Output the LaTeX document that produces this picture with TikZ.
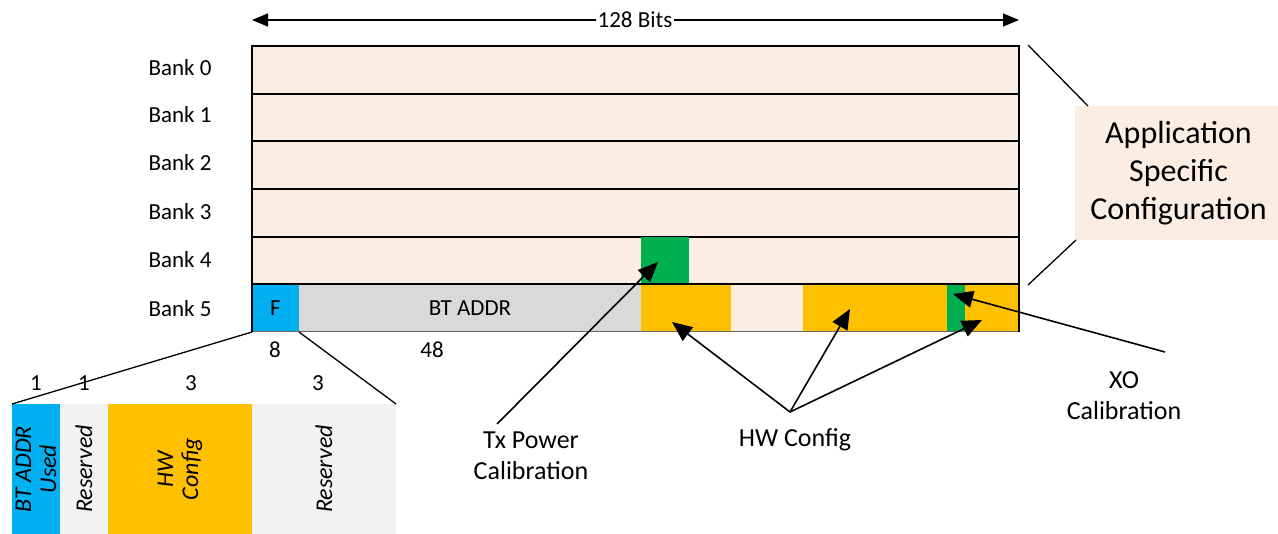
\documentclass[tikz,border=0pt]{standalone}
\usepackage{fontspec}
\setmainfont{Carlito}
\usetikzlibrary{arrows.meta}
\definecolor{peach}{RGB}{252,237,227}
\definecolor{cblue}{RGB}{0,176,240}
\definecolor{cyellow}{RGB}{255,192,0}
\definecolor{cgreen}{RGB}{0,176,80}
\definecolor{cgray}{RGB}{217,217,217}
\definecolor{clight}{RGB}{242,242,242}
\begin{document}
\begin{tikzpicture}[x=1pt,y=-1pt,
  cell/.style={inner sep=0pt,outer sep=0pt,anchor=north west},
  row/.style={cell,draw=black,line width=1.8pt,fill=peach,minimum width=767pt,minimum height=47.67pt},
  lbl/.style={font=\fontsize{23}{26}\selectfont},
  cal/.style={align=center,font=\fontsize{26}{31}\selectfont},
  rot/.style={font=\fontsize{24}{25}\selectfont\itshape,rotate=90,align=center},
  bigarrow/.style={line width=1.6pt,-{Triangle[length=20pt,width=17pt]}},
  plain/.style={line width=1.3pt}]
\useasboundingbox (0,0) rectangle (1278,534);
% rows
\node[row] (r0) at (252,46) {};
\node[row] (r1) at (252,93.67) {};
\node[row] (r2) at (252,141.33) {};
\node[row] (r3) at (252,189) {};
\node[row] (r4) at (252,236.67) {};
\node[cell,fill=cgreen,minimum width=48pt,minimum height=47.67pt] (g4) at (641,236.67) {};
% bank 5 cells
\node[cell,fill=cblue,minimum width=47pt,minimum height=47.67pt] (f) at (252,284.33) {};
\node[cell,fill=cgray,minimum width=342pt,minimum height=47.67pt] (bt) at (299,284.33) {};
\node[cell,fill=cyellow,minimum width=90pt,minimum height=47.67pt] (y1) at (641,284.33) {};
\node[cell,fill=peach,minimum width=72pt,minimum height=47.67pt] (p1) at (731,284.33) {};
\node[cell,fill=cyellow,minimum width=144pt,minimum height=47.67pt] (y2) at (803,284.33) {};
\node[cell,fill=cgreen,minimum width=18pt,minimum height=47.67pt] (g5) at (947,284.33) {};
\node[cell,fill=cyellow,minimum width=54pt,minimum height=47.67pt] (y3) at (965,284.33) {};
\draw[line width=1pt,draw=black!60] (f.south west) -- (y3.south east);
\draw[line width=1.8pt] (f.south west) -- (f.north west) (y3.north east) -- (y3.south east);
\draw[line width=1.8pt] (r4.south west) -- (r4.south east);
\node[lbl] at (f.center) {F};
\node[lbl] at (bt.center) {BT ADDR};
% bank labels
\node[lbl] at (180,68) {Bank 0};
\node[lbl] at (180,115) {Bank 1};
\node[lbl] at (180,163) {Bank 2};
\node[lbl] at (180,212) {Bank 3};
\node[lbl] at (180,260) {Bank 4};
\node[lbl] at (180,309) {Bank 5};
\node[lbl] at (275,350) {8};
\node[lbl] at (432,350) {48};
% width arrow
\coordinate (wl) at (252,20);
\coordinate (wr) at (1019,20);
\node[lbl,fill=white,inner sep=1pt] (bits) at (635,20) {128 Bits};
\draw[line width=1.3pt,-{Triangle[length=16pt,width=13pt]}] (bits.west) -- (wl);
\draw[line width=1.3pt,-{Triangle[length=16pt,width=13pt]}] (bits.east) -- (wr);
% application box
\node[cell,fill=peach,minimum width=203pt,minimum height=134pt] (app) at (1075,106) {};
\node[font=\fontsize{32}{38}\selectfont,align=center] at ([xshift=2pt]app.center) {Application\\Specific\\Configuration};
\coordinate (a1) at (1028,45);
\coordinate (a2) at (1028,285);
\draw[plain] (a1) -- (1088,106);
\draw[plain] (a2) -- (1076,240);
% expanded F
\node[cell,fill=cblue,minimum width=48pt,minimum height=130pt] (e1) at (12,404) {};
\node[cell,fill=clight,minimum width=48pt,minimum height=130pt] (e2) at (60,404) {};
\node[cell,fill=cyellow,minimum width=144pt,minimum height=130pt] (e3) at (108,404) {};
\node[cell,fill=clight,minimum width=144pt,minimum height=130pt] (e4) at (252,404) {};
\node[rot] at (e1.center) {BT ADDR\\Used};
\node[rot] at (e2.center) {Reserved};
\node[rot] at (e3.center) {HW\\Config};
\node[rot] at (e4.center) {Reserved};
\node[lbl] at (36,383) {1};
\node[lbl] at (84,383) {1};
\node[lbl] at (191,383) {3};
\node[lbl] at (318,383) {3};
\draw[plain] (f.south west) -- (e1.north west);
\draw[plain] (f.south east) -- (e4.north east);
% callouts
\node[cal] (tx) at (531,456) {Tx Power\\Calibration};
\node[cal] (hw) at (795,440) {HW Config};
\node[cal] (xo) at (1124,396) {XO\\Calibration};
\draw[bigarrow] (497,424) -- (658,262);
\coordinate (hwt) at (790,412);
\draw[bigarrow] (hwt) -- (672,322);
\draw[bigarrow] (hwt) -- (850,309);
\draw[bigarrow] (hwt) -- (982,320);
\draw[bigarrow] (1165,352) -- (953,294);
\end{tikzpicture}
\end{document}
